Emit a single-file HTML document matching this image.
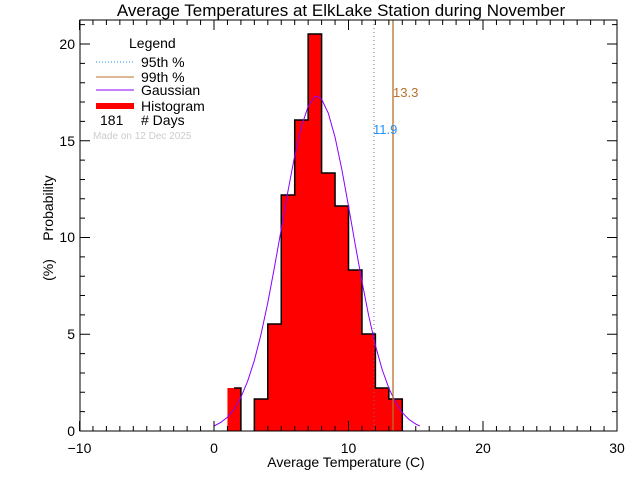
<!DOCTYPE html>
<html><head><meta charset="utf-8"><style>
html,body{margin:0;padding:0;background:#fff;}
svg{display:block;font-family:"Liberation Sans",sans-serif;}
</style></head><body>
<svg width="640" height="480" xmlns="http://www.w3.org/2000/svg">
<rect width="640" height="480" fill="#fff"/>
<path fill="#f00" d="M227.45,431 V388 H240.9 V431 Z M254.35,431 V399 H267.8 V324 H281.25 V195 H294.7 V120 H308.15 V34 H321.6 V173 H335.05 V206 H348.5 V270 H361.95 V334 H375.4 V388 H388.85 V399 H402.3 V431 Z"/>
<path d="M234,388 H240.9 V431 M254.35,431 V399 H267.8 V324 H281.25 V195 H294.7 V120 H308.15 V34 H321.6 V173 H335.05 V206 H348.5 V270 H361.95 V334 H375.4 V388 H388.85 V399 H402.3 V431" fill="none" stroke="#000" stroke-width="1.5"/>
<path d="M214,426 L220.7,422.5 L227.5,417.1 L234.2,409 L240.9,397.3 L247.6,381.3 L254.4,360.3 L261.1,334 L267.8,302.6 L274.5,267 L281.3,228.9 L288,190.9 L294.7,155.8 L301.4,126.6 L308.2,106.2 L314.9,96.7 L316.9,96.2 L321.6,99.1 L328.3,113.2 L335.1,137.4 L341.8,169.3 L348.5,206 L355.2,244.4 L362,281.7 L368.7,315.7 L375.4,345.2 L382.1,369.4 L388.9,388.3 L395.6,402.4 L402.3,412.6 L409,419.5 L415.8,424.1 L419.8,426" fill="none" stroke="#8a00ff" stroke-width="1"/>
<line x1="374" y1="20" x2="374" y2="431" stroke="#7a6a80" stroke-dasharray="1,3"/>
<line x1="393" y1="20" x2="393" y2="431" stroke="#b8702a" stroke-width="1.3"/>
<text x="393" y="97" font-size="13" fill="#b8702a">13.3</text>
<text x="373" y="134" font-size="13" fill="#1e90ff">11.9</text>
<path fill="none" stroke="#000" stroke-width="1" d="
M79.5,431v-10 M92.95,431v-5 M106.4,431v-5 M119.85,431v-5 M133.3,431v-5 M146.75,431v-5 M160.2,431v-5 M173.65,431v-5 M187.1,431v-5 M200.55,431v-5 M214,431v-10 M227.45,431v-5 M240.9,431v-5 M254.35,431v-5 M267.8,431v-5 M281.25,431v-5 M294.7,431v-5 M308.15,431v-5 M321.6,431v-5 M335.05,431v-5 M348.5,431v-10 M361.95,431v-5 M375.4,431v-5 M388.85,431v-5 M402.3,431v-5 M415.75,431v-5 M429.2,431v-5 M442.65,431v-5 M456.1,431v-5 M469.55,431v-5 M483,431v-10 M496.45,431v-5 M509.9,431v-5 M523.35,431v-5 M536.8,431v-5 M550.25,431v-5 M563.7,431v-5 M577.15,431v-5 M590.6,431v-5 M604.05,431v-5
M79.5,20v10 M92.95,20v5 M106.4,20v5 M119.85,20v5 M133.3,20v5 M146.75,20v5 M160.2,20v5 M173.65,20v5 M187.1,20v5 M200.55,20v5 M214,20v10 M227.45,20v5 M240.9,20v5 M254.35,20v5 M267.8,20v5 M281.25,20v5 M294.7,20v5 M308.15,20v5 M321.6,20v5 M335.05,20v5 M348.5,20v10 M361.95,20v5 M375.4,20v5 M388.85,20v5 M402.3,20v5 M415.75,20v5 M429.2,20v5 M442.65,20v5 M456.1,20v5 M469.55,20v5 M483,20v10 M496.45,20v5 M509.9,20v5 M523.35,20v5 M536.8,20v5 M550.25,20v5 M563.7,20v5 M577.15,20v5 M590.6,20v5 M604.05,20v5
M80,411.65h5 M80,392.3h5 M80,372.95h5 M80,353.6h5 M80,334.25h10 M80,314.9h5 M80,295.55h5 M80,276.2h5 M80,256.85h5 M80,237.5h10 M80,218.15h5 M80,198.8h5 M80,179.45h5 M80,160.1h5 M80,140.75h10 M80,121.4h5 M80,102.05h5 M80,82.7h5 M80,63.35h5 M80,44h10 M80,24.65h5
M617,411.65h-5 M617,392.3h-5 M617,372.95h-5 M617,353.6h-5 M617,334.25h-10 M617,314.9h-5 M617,295.55h-5 M617,276.2h-5 M617,256.85h-5 M617,237.5h-10 M617,218.15h-5 M617,198.8h-5 M617,179.45h-5 M617,160.1h-5 M617,140.75h-10 M617,121.4h-5 M617,102.05h-5 M617,82.7h-5 M617,63.35h-5 M617,44h-10 M617,24.65h-5"/>
<rect x="80" y="20" width="537" height="411" fill="none" stroke="#000"/>
<g font-size="14" text-anchor="middle">
<text x="79.5" y="453">−10</text>
<text x="214" y="453">0</text>
<text x="348.5" y="453">10</text>
<text x="483" y="453">20</text>
<text x="617" y="453">30</text>
</g>
<g font-size="14" text-anchor="end">
<text x="75" y="436">0</text>
<text x="75" y="339">5</text>
<text x="75" y="242">10</text>
<text x="75" y="146">15</text>
<text x="75" y="49">20</text>
</g>
<text x="341" y="16" font-size="17" text-anchor="middle">Average Temperatures at ElkLake Station during November</text>
<text x="346" y="467" font-size="14" text-anchor="middle">Average Temperature (C)</text>
<text transform="translate(53,208) rotate(-90)" font-size="14" text-anchor="middle">Probability</text>
<text transform="translate(53,270) rotate(-90)" font-size="14" text-anchor="middle">(%)</text>
<g font-size="14">
<text x="129" y="48">Legend</text>
<line x1="96" y1="62" x2="134" y2="62" stroke="#1e90ff" stroke-dasharray="1,2"/>
<text x="141" y="67">95th %</text>
<line x1="96" y1="77" x2="134" y2="77" stroke="#b8702a"/>
<text x="141" y="82">99th %</text>
<line x1="96" y1="90" x2="134" y2="90" stroke="#8a00ff"/>
<text x="141" y="95">Gaussian</text>
<rect x="96" y="103" width="38" height="6" fill="#f00"/>
<text x="141" y="111">Histogram</text>
<text x="100" y="125">181</text>
<text x="141" y="125"># Days</text>
</g>
<text x="93" y="139" font-size="10" fill="#ccc">Made on 12 Dec 2025</text>
</svg>
</body></html>
